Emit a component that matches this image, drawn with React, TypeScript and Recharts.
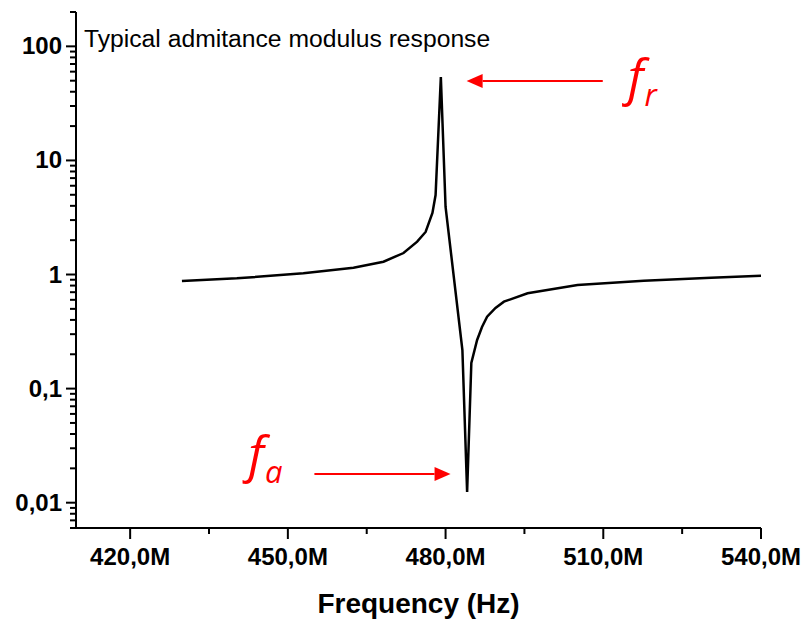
import { LineChart, Line, XAxis, YAxis, ReferenceLine, ReferenceDot } from "recharts";

// frequency in MHz, admittance modulus (log scale)
const freq = [
  429.85, 440.3, 452.95, 462.48, 468.19, 472.0, 474.6, 476.2, 477.5, 478.1, 479.1, 480.0,
  483.2, 484.1, 484.9, 486.0, 486.93, 487.9, 489.5, 491.1, 495.6, 505.1, 517.7, 530.5, 540.0,
];
const admittance = [
  0.877, 0.926, 1.024, 1.147, 1.295, 1.543, 1.94, 2.36, 3.46, 4.97, 53.8, 3.91,
  0.218, 0.0124, 0.168, 0.267, 0.347, 0.427, 0.509, 0.578, 0.684, 0.809, 0.883, 0.938, 0.976,
];

const xMajor = [420, 450, 480, 510, 540];
const xTicks = [420, 435, 450, 465, 480, 495, 510, 525, 540];
const yMajor = [0.01, 0.1, 1, 10, 100];
const yMajorLabels = ["0,01", "0,1", "1", "10", "100"];
const yTicks = [
  0.006, 0.007, 0.008, 0.009,
  0.01, 0.02, 0.03, 0.04, 0.05, 0.06, 0.07, 0.08, 0.09,
  0.1, 0.2, 0.3, 0.4, 0.5, 0.6, 0.7, 0.8, 0.9,
  1, 2, 3, 4, 5, 6, 7, 8, 9,
  10, 20, 30, 40, 50, 60, 70, 80, 90,
  100, 200,
];

// annotations: [x1, x2, y]
const arrowR = [509.9, 484.0, 49.6];
const arrowA = [455.05, 480.95, 0.01786];
const labelR = [514.66, 37.4];
const labelA = [442.47, 0.01858];

const data = freq.map((f, i) => ({ f, y: admittance[i] }));

const FONT = "'Liberation Sans', Arial, sans-serif";

const XTick = (props: any) => {
  const { x, y, payload } = props;
  const major = xMajor.includes(payload.value);
  return (
    <g>
      <line x1={x} y1={y} x2={x} y2={y + (major ? 11 : 6)} stroke="#000" strokeWidth={2} />
      {major && (
        <text x={x} y={y + 37} textAnchor="middle" fontFamily={FONT} fontWeight="bold" fontSize={24} fill="#000">
          {`${payload.value},0M`}
        </text>
      )}
    </g>
  );
};

const YTick = (props: any) => {
  const { x, y, payload } = props;
  const idx = yMajor.indexOf(payload.value);
  const major = idx >= 0;
  return (
    <g>
      <line x1={x - (major ? 10 : 6)} y1={y} x2={x} y2={y} stroke="#000" strokeWidth={2} />
      {major && (
        <text x={x - 14} y={y + 8} textAnchor="end" fontFamily={FONT} fontWeight="bold" fontSize={24} fill="#000">
          {yMajorLabels[idx]}
        </text>
      )}
    </g>
  );
};

const Arrow = (props: any) => {
  const { x1, y1, x2, y2 } = props;
  const dir = x2 > x1 ? 1 : -1;
  const head = 16;
  return (
    <g>
      <line x1={x1} y1={y1} x2={x2 - dir * head} y2={y2} stroke="#ff0000" strokeWidth={2} />
      <polygon
        points={`${x2},${y2} ${x2 - dir * head},${y2 - 7} ${x2 - dir * head},${y2 + 7}`}
        fill="#ff0000"
      />
    </g>
  );
};

const subLabel = (sub: string) => (props: any) => {
  const { cx, cy } = props;
  return (
    <text x={cx} y={cy} fill="#ff0000" fontFamily="'Open Sans', sans-serif" fontStyle="italic" fontSize={50}>
      f
      <tspan dx={1} dy={11} fontSize={31}>
        {sub}
      </tspan>
    </text>
  );
};

export default function App() {
  return (
    <div style={{ position: "absolute", left: 0, top: 0, background: "#fff" }}>
      <LineChart width={803} height={619} data={data} margin={{ top: 12, right: 42, left: 0, bottom: 0 }}>
        <XAxis
          dataKey="f"
          type="number"
          domain={[409.7, 540]}
          ticks={xTicks}
          allowDataOverflow
          height={91}
          axisLine={{ stroke: "#000", strokeWidth: 2 }}
          tickLine={false}
          tickSize={0}
          tickMargin={0}
          tick={<XTick />}
          interval={0}
          label={{
            content: (p: any) => {
              const vb = p.viewBox;
              return (
                <text x={vb.x + vb.width / 2} y={vb.y + 85} textAnchor="middle" fontFamily={FONT} fontWeight="bold" fontSize={28} fill="#000">
                  Frequency (Hz)
                </text>
              );
            },
          }}
        />
        <YAxis
          dataKey="y"
          scale="log"
          domain={[0.006, 200]}
          ticks={yTicks}
          allowDataOverflow
          width={76}
          axisLine={{ stroke: "#000", strokeWidth: 2 }}
          tickLine={false}
          tickSize={0}
          tickMargin={0}
          tick={<YTick />}
          interval={0}
          label={{
            content: (p: any) => {
              const vb = p.viewBox;
              return (
                <text x={vb.x + vb.width + 8} y={vb.y + 35} fontFamily={FONT} fontSize={24.7} fill="#000">
                  Typical admitance modulus response
                </text>
              );
            },
          }}
        />
        <Line type="linear" dataKey="y" stroke="#000" strokeWidth={2.5} dot={false} isAnimationActive={false} />
        <ReferenceLine segment={[{ x: arrowR[0], y: arrowR[2] }, { x: arrowR[1], y: arrowR[2] }]} shape={<Arrow />} />
        <ReferenceLine segment={[{ x: arrowA[0], y: arrowA[2] }, { x: arrowA[1], y: arrowA[2] }]} shape={<Arrow />} />
        <ReferenceDot x={labelR[0]} y={labelR[1]} shape={subLabel("r")} />
        <ReferenceDot x={labelA[0]} y={labelA[1]} shape={subLabel("a")} />
      </LineChart>
    </div>
  );
}
